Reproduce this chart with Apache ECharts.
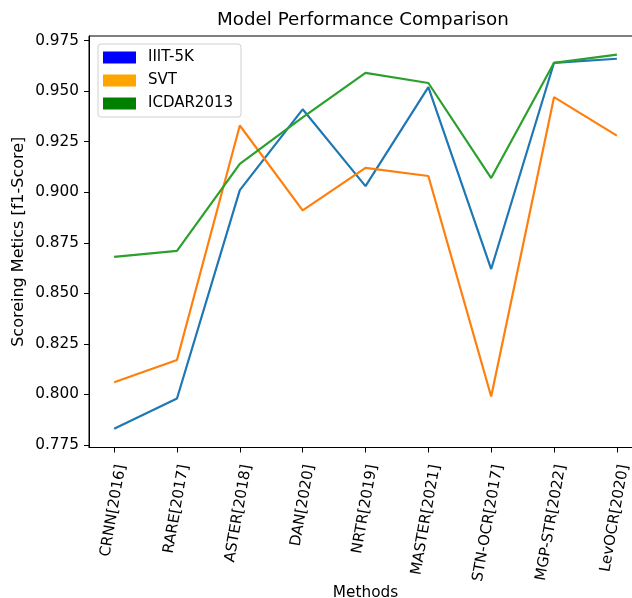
<!DOCTYPE html>
<html>
<head>
<meta charset="utf-8">
<script src="https://cdn.jsdelivr.net/npm/echarts@6/dist/echarts.min.js"></script>
<style>
html,body{margin:0;padding:0;background:#fff;}
#chart{width:632px;height:598px;}
</style>
</head>
<body>
<div id="chart"></div>
<script>
const methods = ['CRNN[2016]', 'RARE[2017]', 'ASTER[2018]', 'DAN[2020]', 'NRTR[2019]', 'MASTER[2021]', 'STN-OCR[2017]', 'MGP-STR[2022]', 'LevOCR[2020]'];
const iiit5k = [0.783, 0.798, 0.901, 0.941, 0.903, 0.952, 0.862, 0.964, 0.966];
const svt = [0.806, 0.817, 0.933, 0.891, 0.912, 0.908, 0.799, 0.947, 0.928];
const icdar2013 = [0.868, 0.871, 0.914, 0.937, 0.959, 0.954, 0.907, 0.964, 0.968];
const yTicks = [0.775, 0.800, 0.825, 0.850, 0.875, 0.900, 0.925, 0.950, 0.975];
const xTicks = methods.map((m, i) => i);

const seriesNames = ['IIIT-5K', 'SVT', 'ICDAR2013'];
const lineColors = ['#1f77b4', '#ff7f0e', '#2ca02c'];
const legendColors = ['#0000ff', '#ffa500', '#008000'];
const seriesValues = [iiit5k, svt, icdar2013];

const FONT = 'DejaVu Sans';
const chart = echarts.init(document.getElementById('chart'), null, {renderer: 'canvas'});

chart.setOption({
  animation: false,
  backgroundColor: '#ffffff',
  textStyle: {fontFamily: FONT},
  title: {
    text: 'Model Performance Comparison',
    left: 217,
    top: 11,
    padding: 0,
    textStyle: {fontFamily: FONT, fontSize: 18.3, fontWeight: 'normal', color: '#000'}
  },
  legend: {
    orient: 'vertical',
    left: 98,
    top: 44,
    padding: [5.5, 8, 5.5, 5],
    itemWidth: 33,
    itemHeight: 12,
    itemGap: 7,
    icon: 'rect',
    borderColor: '#d0d0d0',
    borderWidth: 1,
    borderRadius: 3,
    backgroundColor: 'rgba(255,255,255,0.8)',
    textStyle: {fontFamily: FONT, fontSize: 15, color: '#000', lineHeight: 16, padding: [0, 0, 0, 7]},
    data: seriesNames.map((n, i) => ({
      name: n,
      itemStyle: {color: legendColors[i], borderColor: legendColors[i], borderWidth: 0}
    }))
  },
  grid: {
    left: 89,
    top: 36,
    width: 553,
    height: 411.5,
    show: true,
    borderColor: '#000',
    borderWidth: 1,
    backgroundColor: 'transparent',
    outerBoundsMode: 'none'
  },
  xAxis: {
    type: 'value',
    min: -0.4,
    max: 8.4,
    name: 'Methods',
    nameLocation: 'middle',
    nameGap: 138,
    nameMoveOverlap: false,
    nameTextStyle: {fontFamily: FONT, fontSize: 15.3, color: '#000'},
    axisLine: {show: true, onZero: false, lineStyle: {color: '#000', width: 1}},
    axisTick: {show: true, inside: false, customValues: xTicks, length: 5, lineStyle: {color: '#000', width: 1}},
    axisLabel: {
      customValues: xTicks,
      formatter: v => methods[Math.round(v)],
      rotate: 80,
      margin: 16,
      verticalAlign: 'top',
      fontFamily: FONT,
      fontSize: 15,
      color: '#000'
    },
    splitLine: {show: false}
  },
  yAxis: {
    type: 'value',
    min: 0.77375,
    max: 0.97725,
    name: 'Scoreing Metics [f1-Score]',
    nameLocation: 'middle',
    nameGap: 62,
    nameMoveOverlap: false,
    nameTextStyle: {fontFamily: FONT, fontSize: 16, color: '#000'},
    axisLine: {show: true, onZero: false, lineStyle: {color: '#000', width: 1}},
    axisTick: {show: true, inside: false, customValues: yTicks, length: 5, lineStyle: {color: '#000', width: 1}},
    axisLabel: {
      customValues: yTicks,
      formatter: v => v.toFixed(3),
      margin: 10,
      fontFamily: FONT,
      fontSize: 15.3,
      color: '#000'
    },
    splitLine: {show: false}
  },
  series: seriesNames.map((n, i) => ({
    name: n,
    type: 'line',
    data: seriesValues[i].map((v, j) => [j, v]),
    showSymbol: false,
    symbol: 'none',
    lineStyle: {color: lineColors[i], width: 2.2},
    itemStyle: {color: lineColors[i]},
    emphasis: {disabled: true}
  }))
});
</script>
</body>
</html>
